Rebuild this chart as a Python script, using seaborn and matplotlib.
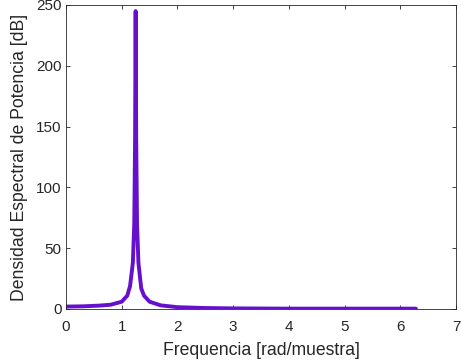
import matplotlib
matplotlib.use("Agg")
import matplotlib.pyplot as plt
import seaborn as sns
import pandas as pd

freq = [0.0, 0.3, 0.6, 0.8, 1.0, 1.1, 1.15, 1.2, 1.225, 1.24, 1.25, 1.26,
        1.275, 1.3, 1.35, 1.4, 1.5, 1.7, 2.0, 2.5, 3.0, 4.0, 5.0, 6.0, 6.28]
psd = [2.0, 2.2, 2.8, 3.5, 6.0, 11.0, 19.0, 38.0, 70.0, 140.0, 245.0, 140.0,
       70.0, 38.0, 17.0, 11.0, 6.0, 3.0, 1.5, 0.8, 0.5, 0.3, 0.3, 0.3, 0.3]
xticks = [0, 1, 2, 3, 4, 5, 6, 7]
yticks = [0, 50, 100, 150, 200, 250]

df = pd.DataFrame({"freq": freq, "psd": psd})

sns.set_theme(style="white")
plt.rcParams["font.family"] = ["Liberation Sans", "DejaVu Sans"]

fig = plt.figure(figsize=(4.61, 3.62), dpi=100)
ax = fig.add_axes([66/461, 1 - 309/362, (456-66)/461, (309-5)/362])
sns.lineplot(data=df, x="freq", y="psd", ax=ax, color="#6410cc", linewidth=2.8,
             sort=False, estimator=None)
ax.set_xlim(0, 7)
ax.set_ylim(0, 250)
ax.set_xticks(xticks)
ax.set_yticks(yticks)
ax.set_xlabel("Frequencia [rad/muestra]", fontsize=12.7, color="#262626", labelpad=6)
ax.set_ylabel("Densidad Espectral de Potencia [dB]", fontsize=12.7, color="#262626", labelpad=6)
ax.tick_params(direction="in", length=3, width=0.6, colors="#262626", labelsize=11,
               top=True, right=True, bottom=True, left=True, pad=3)
ax.tick_params(axis="x", pad=8)
for s in ax.spines.values():
    s.set_visible(True)
    s.set_color("#262626")
    s.set_linewidth(0.6)
fig.savefig("out.png", dpi=100, facecolor="white")
